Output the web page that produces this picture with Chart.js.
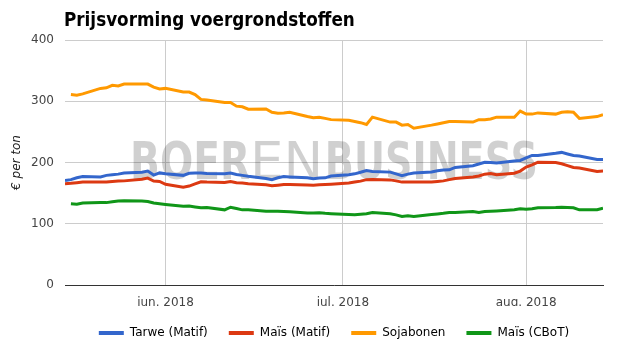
<!DOCTYPE html>
<html><head><meta charset="utf-8">
<script src="https://cdn.jsdelivr.net/npm/chart.js@4.4.1/dist/chart.umd.min.js"></script>
<style>html,body{margin:0;padding:0;background:#fff}#wrap{width:625px;height:355px;position:relative}</style>
</head><body><div id="wrap"><canvas id="c"></canvas></div>
<script>
const chartTitle = 'Prijsvorming voergrondstoffen';
const yTitle = '€ per ton';
const seriesNames = ['Tarwe (Matif)', 'Maïs (Matif)', 'Sojabonen', 'Maïs (CBoT)'];
const tickDates = ['2018-06-01', '2018-07-01', '2018-08-01'];
const tickLabels = ['jun. 2018', 'jul. 2018', 'aug. 2018'];
const yTicks = [0, 100, 200, 300, 400];

const dates = [
 '2018-05-15','2018-05-16','2018-05-17','2018-05-18','2018-05-21','2018-05-22','2018-05-23','2018-05-24','2018-05-25',
 '2018-05-28','2018-05-29','2018-05-30','2018-05-31','2018-06-01','2018-06-04','2018-06-05','2018-06-06','2018-06-07',
 '2018-06-08','2018-06-11','2018-06-12','2018-06-13','2018-06-14','2018-06-15','2018-06-18','2018-06-19','2018-06-20',
 '2018-06-21','2018-06-22','2018-06-25','2018-06-26','2018-06-27','2018-06-28','2018-06-29','2018-07-02','2018-07-03',
 '2018-07-04','2018-07-05','2018-07-06','2018-07-09','2018-07-10','2018-07-11','2018-07-12','2018-07-13','2018-07-16',
 '2018-07-17','2018-07-18','2018-07-19','2018-07-20','2018-07-23','2018-07-24','2018-07-25','2018-07-26','2018-07-27',
 '2018-07-30','2018-07-31','2018-08-01','2018-08-02','2018-08-03','2018-08-06','2018-08-07','2018-08-08','2018-08-09',
 '2018-08-10','2018-08-13','2018-08-14'
];
const tarweMatif = [
 170.5,172,175,177,176.5,179,180,181,183,
 184,186,179.5,183,181.5,179,182.5,182.7,182.7,
 182,181.5,182.7,180.5,179,177.5,174,172,175,
 177,176.5,175,173.5,174.5,175,178,180,181.5,
 184,187,185.5,184.3,181.5,178.5,181,183,184.5,
 186.5,187.6,188,192,194.8,197.5,200.5,200,199,
 202.5,203.4,207.5,211.6,211.6,215,216.5,214,211.5,
 210.5,205,205
];
const maisMatif = [
 165.3,166,167,168,168,168,169,169.6,170,
 172.5,174.5,169.6,169,164.5,159.5,161.5,165,168.5,
 168,167.2,169,167,166.5,165.5,163.5,162,163,
 164,164,163.3,163,163.5,164,164.5,166.5,168,
 169.6,172,172.3,171.6,170,168,168,168,168,
 169,170,172,174,176.5,178,181,182,180,
 182.5,186,192.5,196,200.5,200,198,195,192,
 191,185.5,186
];
const sojabonen = [
 null,311,310,312,321,322,326,325,328,
 328,328,323,320,321,315,315,311,303,
 302,298,298,292,291,287,287.5,282,280.5,
 281,282,275,273,274,272,270,269,267,
 265,262,274,266,266,261,262,256,261,
 263,265,267,267,266,270,270,271,274,
 274,284,279,279,281,279,282,283,282,
 272,275,278
];
const maisCBoT = [
 null,132.5,132,134,134.5,134.5,136,137,137.5,
 137,136.3,133.8,132.5,131.4,128.6,129,127.5,126,
 126.5,122.7,127,125,122.7,122.7,120.5,120.5,120.5,
 120,119.5,117.5,117.5,118,117,116.5,115,114.6,
 115.5,116.3,118.3,116.3,114.5,111.8,113,111.8,115,
 116,117,118.3,118.5,120,118.3,120,120.5,121,
 122.7,124.5,123.5,124.5,126,126.5,126.9,126.5,126,
 122.7,123,125.4
];

const seriesColors = ['#3366cc', '#dc3912', '#ff9900', '#109618'];
const FONT = 'DejaVu Sans';
const DAY = 86400000;
const toDay = s => Date.UTC(+s.slice(0, 4), +s.slice(5, 7) - 1, +s.slice(8, 10)) / DAY;
const xs = dates.map(toDay);
const tickXs = tickDates.map(toDay);
const pts = arr => arr.map((v, i) => ({x: xs[i], y: v}));
const allSeries = [tarweMatif, maisMatif, sojabonen, maisCBoT];

const titlePlugin = {
  id: 'titleText',
  afterDraw(chart) {
    const ctx = chart.ctx;
    ctx.save();
    ctx.font = 'bold 18.7px "DejaVu Sans Condensed", "DejaVu Sans"';
    ctx.fillStyle = '#000';
    ctx.textBaseline = 'alphabetic';
    ctx.textAlign = 'left';
    ctx.fillText(chartTitle, chart.chartArea.left - 1, 26);
    ctx.restore();
  }
};

const watermarkPlugin = {
  id: 'watermark',
  beforeDatasetsDraw(chart) {
    const {ctx, chartArea: a} = chart;
    const w = a.right - a.left;
    const parts = [
      {t: 'BOER', weight: 'bold', x0: 0.121, x1: 0.344},
      {t: 'EN', weight: 'normal', x0: 0.344, x1: 0.480},
      {t: 'BUSINESS', weight: 'bold', x0: 0.483, x1: 0.879}
    ];
    const base = 179;
    ctx.save();
    ctx.fillStyle = 'rgba(0,0,0,0.185)';
    ctx.textBaseline = 'alphabetic';
    parts.forEach(p => {
      ctx.font = p.weight + ' 51px "DejaVu Sans"';
      const mw = ctx.measureText(p.t).width;
      const target = (p.x1 - p.x0) * w;
      ctx.save();
      ctx.translate(a.left + p.x0 * w, base);
      ctx.scale(target / mw, 1);
      ctx.fillText(p.t, 0, 0);
      ctx.restore();
    });
    ctx.restore();
  }
};

new Chart(document.getElementById('c'), {
  type: 'line',
  data: {
    datasets: allSeries.map((s, i) => ({
      label: seriesNames[i],
      data: pts(s),
      borderColor: seriesColors[i],
      backgroundColor: seriesColors[i],
      borderWidth: 3,
      pointRadius: 0,
      tension: 0,
      spanGaps: false
    }))
  },
  options: {
    responsive: true,
    maintainAspectRatio: false,
    animation: false,
    devicePixelRatio: 1,
    layout: {padding: {left: 0, right: 22, top: 40, bottom: 6}},
    plugins: {
      title: {display: false},
      tooltip: {enabled: false},
      legend: {
        position: 'bottom',
        fullSize: false,
        labels: {
          boxWidth: 25,
          boxHeight: 4,
          padding: 21,
          color: '#222',
          font: {family: FONT, size: 12},
          generateLabels(chart) {
            return chart.data.datasets.map((d, i) => ({
              text: d.label,
              fillStyle: d.borderColor,
              strokeStyle: d.borderColor,
              lineWidth: 0,
              hidden: false,
              datasetIndex: i
            }));
          }
        }
      }
    },
    scales: {
      x: {
        type: 'linear',
        min: xs[0],
        max: xs[xs.length - 1],
        afterBuildTicks(scale) { scale.ticks = tickXs.map(v => ({value: v})); },
        afterFit(scale) { scale.height = 21; },
        ticks: {
          autoSkip: false,
          maxRotation: 0,
          padding: 11,
          color: '#444',
          font: {family: FONT, size: 12},
          callback(v) { const k = tickXs.indexOf(v); return k >= 0 ? tickLabels[k] : ''; }
        },
        grid: {color: '#cccccc', lineWidth: 1, drawTicks: false},
        border: {display: true, color: '#333333', width: 1}
      },
      y: {
        min: 0,
        max: 400,
        afterBuildTicks(scale) { scale.ticks = yTicks.map(v => ({value: v})); },
        afterFit(scale) { scale.width = 65; },
        ticks: {
          padding: 11,
          color: '#444',
          font: {family: FONT, size: 12}
        },
        grid: {color: '#cccccc', lineWidth: 1, drawTicks: false},
        border: {display: false},
        title: {
          display: true,
          text: yTitle,
          color: '#222',
          font: {family: FONT, size: 12, style: 'italic'},
          padding: {top: 10, bottom: 0}
        }
      }
    }
  },
  plugins: [watermarkPlugin, titlePlugin]
});
</script>
</body></html>
